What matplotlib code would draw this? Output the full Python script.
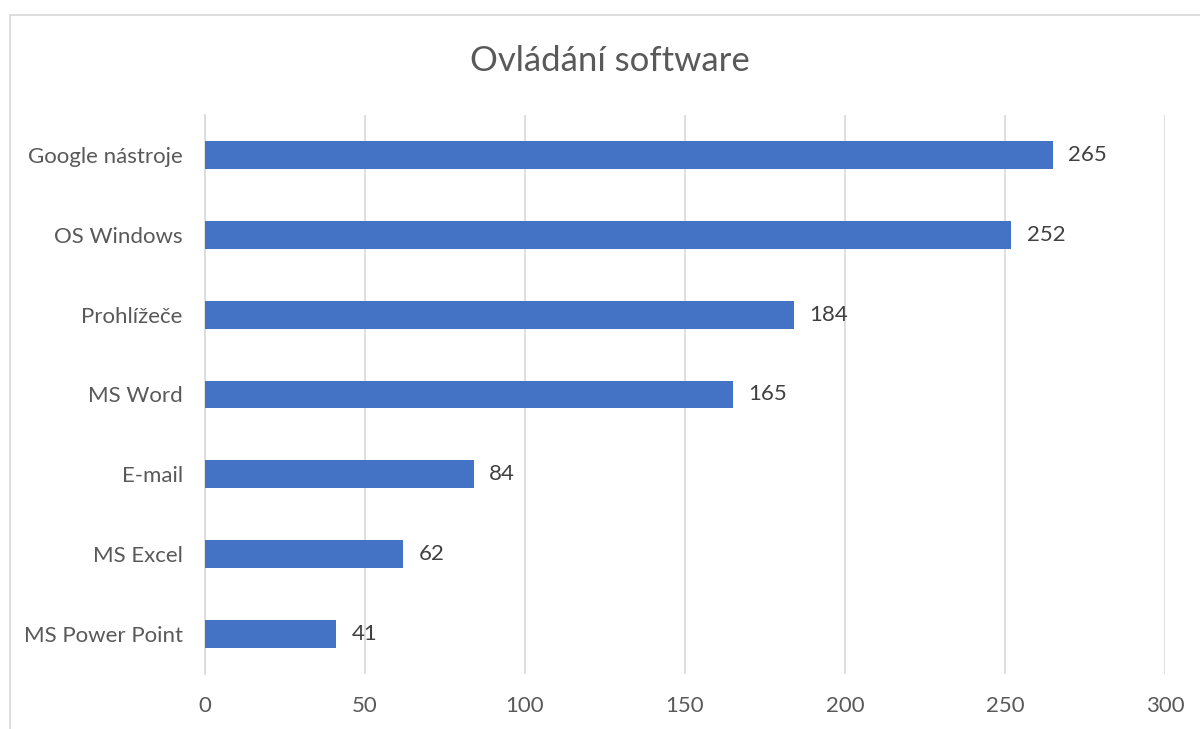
import matplotlib
matplotlib.use("Agg")
import matplotlib.pyplot as plt
from matplotlib.patches import Rectangle

categories = ["Google nástroje", "OS Windows", "Prohlížeče", "MS Word", "E-mail", "MS Excel", "MS Power Point"]
values = [265, 252, 184, 165, 84, 62, 41]
xticks = [0, 50, 100, 150, 200, 250, 300]

plt.rcParams['font.family'] = ['Lato', 'DejaVu Sans']

fig = plt.figure(figsize=(12, 7.29), dpi=100)
fig.patch.set_facecolor("white")

# outer chart-area border (cropped on right and bottom)
fig.patches.append(Rectangle((9.5/1200, -0.1), 1.2, 1 - 15.5/729 + 0.1,
                             transform=fig.transFigure, fill=False,
                             edgecolor="#D9D9D9", linewidth=1.2, zorder=0))

ax = fig.add_axes([205/1200, 1 - 674/729, 960/1200, 559/729])
ypos = list(range(len(categories)))
ax.barh(ypos, values, height=0.35, color="#4472C4", zorder=3)
ax.set_ylim(len(categories) - 0.5, -0.5)
ax.set_xlim(0, 300)
ax.set_xticks(xticks)
ax.set_xticklabels([str(t) for t in xticks])
ax.set_yticks(ypos)
ax.set_yticklabels(categories)
ax.grid(axis="x", color="#D9D9D9", linewidth=1.2, zorder=0)
for s in ["top", "right", "bottom"]:
    ax.spines[s].set_visible(False)
ax.spines["left"].set_color("#D9D9D9")
ax.spines["left"].set_linewidth(1.2)
ax.tick_params(axis="both", length=0, labelsize=16, labelcolor="#595959")
ax.tick_params(axis="x", pad=16)
ax.tick_params(axis="y", pad=16)

for y, v in zip(ypos, values):
    ax.annotate(str(v), (v, y), xytext=(11, 0), textcoords="offset points",
                va="center", ha="left", fontsize=16, color="#404040")

fig.text(610/1200, 1 - 61/729, "Ovládání software", ha="center", va="center",
         fontsize=25, color="#595959")

fig.savefig("out.png", dpi=100)
